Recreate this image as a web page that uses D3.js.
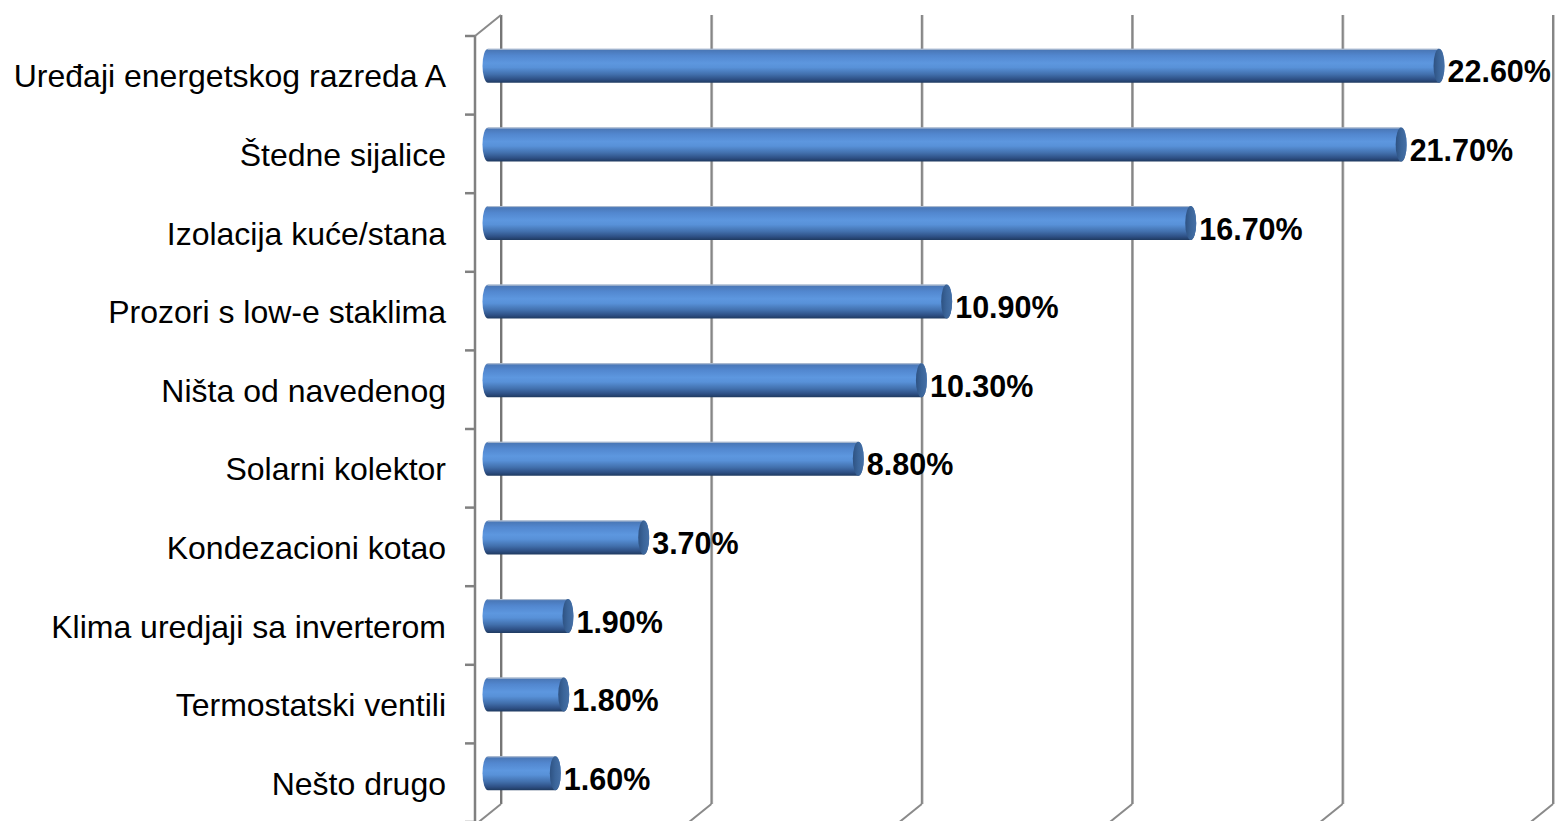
<!DOCTYPE html>
<html>
<head>
<meta charset="utf-8">
<script src="https://cdn.jsdelivr.net/npm/d3@7"></script>
<style>
html,body{margin:0;padding:0;background:#fff;overflow:hidden;}
svg{display:block;}
</style>
</head>
<body>
<svg id="chart" width="1555" height="821"></svg>
<script>
const categories = ["Uređaji energetskog razreda A","Štedne sijalice","Izolacija kuće/stana","Prozori s low-e staklima","Ništa od navedenog","Solarni kolektor","Kondezacioni kotao","Klima uredjaji sa inverterom","Termostatski ventili","Nešto drugo"];
const values = [22.6,21.7,16.7,10.9,10.3,8.8,3.7,1.9,1.8,1.6];
const tickValues = [0,5,10,15,20,25];

(function(){
const svg = d3.select("#chart");
const frontX = 475, depthX = 26, depthY = 21;
const plotTop = 36, plotBottom = 822;

const x = d3.scaleLinear().domain([0,25]).range([0,1052]);
const y = d3.scaleBand().domain(categories).range([plotTop,plotBottom]).paddingInner(0).paddingOuter(0);
const bw = y.bandwidth();

const defs = svg.append("defs");
const g1 = defs.append("linearGradient").attr("id","cyl").attr("x1",0).attr("y1",0).attr("x2",0).attr("y2",1);
[[0,"#a3b5ce"],[0.05,"#4a78b8"],[0.2,"#5287cf"],[0.42,"#5d97df"],[0.55,"#5891d8"],[0.75,"#4270ad"],[0.9,"#2e5085"],[1,"#1f3a60"]]
  .forEach(s=>g1.append("stop").attr("offset",s[0]).attr("stop-color",s[1]));
const g2 = defs.append("linearGradient").attr("id","cap").attr("x1",0).attr("y1",0).attr("x2",1).attr("y2",0);
[[0,"#2e5282"],[0.5,"#3b659a"],[1,"#4670a6"]].forEach(s=>g2.append("stop").attr("offset",s[0]).attr("stop-color",s[1]));

const grid = svg.append("g");
tickValues.forEach(v=>{
  const gx = frontX + depthX + x(v);
  grid.append("line").attr("x1",gx+1).attr("x2",gx+1).attr("y1",plotTop-depthY).attr("y2",plotBottom+3-depthY)
    .attr("stroke","#b8b8b8").attr("stroke-width",1.5);
  grid.append("line").attr("x1",gx).attr("x2",gx).attr("y1",plotTop-depthY).attr("y2",plotBottom+3-depthY)
    .attr("stroke",v===0?"#767676":"#868686").attr("stroke-width",2);
  grid.append("line").attr("x1",gx).attr("y1",plotBottom+3-depthY).attr("x2",gx-depthX).attr("y2",plotBottom+3)
    .attr("stroke","#8a8a8a").attr("stroke-width",2);
});

grid.append("line").attr("x1",frontX).attr("x2",frontX).attr("y1",plotTop).attr("y2",plotBottom+3)
  .attr("stroke","#808080").attr("stroke-width",2.5);
grid.append("line").attr("x1",frontX).attr("y1",plotTop).attr("x2",frontX+depthX).attr("y2",plotTop-depthY)
  .attr("stroke","#8a8a8a").attr("stroke-width",2);
d3.range(categories.length+1).forEach(i=>{
  const ty = plotTop + i*bw;
  grid.append("line").attr("x1",frontX-10).attr("x2",frontX).attr("y1",ty).attr("y2",ty)
    .attr("stroke","#808080").attr("stroke-width",2.5);
});

const bx0 = frontX + depthX/2;
const barH = 34, rx = 5.5;
const bars = svg.append("g");
categories.forEach((c,i)=>{
  const cy = y(c) + bw/2 - 9.5;
  const x0 = bx0, x1 = bx0 + x(values[i]);
  const t = cy - barH/2, b = cy + barH/2;
  const p = `M${x0},${t} L${x1},${t} A${rx},${barH/2} 0 0 1 ${x1},${b} L${x0},${b} A${rx},${barH/2} 0 0 1 ${x0},${t} Z`;
  bars.append("path").attr("d",p).attr("fill","url(#cyl)");
  bars.append("line").attr("x1",x0).attr("x2",x1).attr("y1",t+0.5).attr("y2",t+0.5).attr("stroke","#a9b9cf").attr("stroke-width",1);
  bars.append("ellipse").attr("cx",x1).attr("cy",cy).attr("rx",rx).attr("ry",barH/2).attr("fill","url(#cap)");
  svg.append("text").attr("x",x1+rx+3).attr("y",cy+16.5)
    .attr("font-family","'Liberation Sans', Arial, sans-serif").attr("font-weight","bold").attr("font-size","30.5px")
    .attr("fill","#000").text(d3.format(".2f")(values[i])+"%");
});

svg.append("g").selectAll("text").data(categories).join("text")
  .attr("x",446).attr("y",d=>y(d)+bw/2+12)
  .attr("text-anchor","end")
  .attr("font-family","'Liberation Sans', Arial, sans-serif").attr("font-size","32px").attr("fill","#000")
  .text(d=>d);
})();
</script>
</body>
</html>
